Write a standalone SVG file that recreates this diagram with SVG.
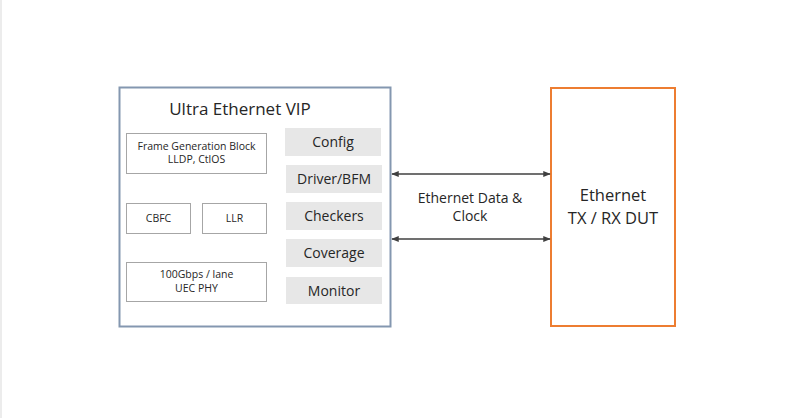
<svg xmlns="http://www.w3.org/2000/svg" width="800" height="418" viewBox="0 0 800 418">
<style>
text{font-family:"Open Sans","Noto Sans","Liberation Sans",sans-serif;fill:#262626;text-anchor:middle}
.box{fill:#fff;stroke:#a6a6a6;stroke-width:1}
.gray{fill:#e7e7e7;stroke:none}
.s{font-size:10.5px}
.m{font-size:14px}
.l{font-size:16.5px}
.conn{stroke:#404040;stroke-width:1.5;fill:none;marker-start:url(#ah);marker-end:url(#ah)}
</style>
<defs>
<marker id="ah" viewBox="0 0 10 10" refX="9" refY="5" markerWidth="5" markerHeight="5" orient="auto-start-reverse" markerUnits="strokeWidth">
<path d="M0,1 L10,5 L0,9 z" fill="#404040"/>
</marker>
</defs>
<rect x="0" y="0" width="800" height="418" fill="#fff"/>
<line x1="1" y1="0" x2="1" y2="418" stroke="#d9d9d9" stroke-width="1"/>
<g id="vip">
<rect x="119.5" y="87.5" width="271" height="239" fill="#fff" stroke="#8497b0" stroke-width="2"/>
<text x="240" y="115" style="font-size:17px">Ultra Ethernet VIP</text>
</g>
<g id="frame-gen">
<rect class="box" x="126.5" y="133.5" width="140" height="40"/>
<text class="s" x="196.5" y="150">Frame Generation Block</text>
<text class="s" x="196.5" y="163">LLDP, CtlOS</text>
</g>
<g id="cbfc">
<rect class="box" x="126.5" y="203.5" width="64" height="30"/>
<text class="s" x="158.5" y="222">CBFC</text>
</g>
<g id="llr">
<rect class="box" x="202.5" y="203.5" width="64" height="30"/>
<text class="s" x="234.5" y="222">LLR</text>
</g>
<g id="phy">
<rect class="box" x="126.5" y="262.5" width="140" height="39"/>
<text class="s" x="196.5" y="278">100Gbps / lane</text>
<text class="s" x="196.5" y="292">UEC PHY</text>
</g>
<g id="config">
<rect class="gray" x="285" y="128" width="96" height="28"/>
<text class="m" x="333" y="147">Config</text>
</g>
<g id="driver">
<rect class="gray" x="286" y="165" width="96" height="28"/>
<text class="m" x="334" y="184">Driver/BFM</text>
</g>
<g id="checkers">
<rect class="gray" x="286" y="202" width="96" height="28"/>
<text class="m" x="334" y="221">Checkers</text>
</g>
<g id="coverage">
<rect class="gray" x="286" y="239" width="96" height="28"/>
<text class="m" x="334" y="258">Coverage</text>
</g>
<g id="monitor">
<rect class="gray" x="286" y="277" width="96" height="27"/>
<text class="m" x="334" y="296">Monitor</text>
</g>
<g id="dut">
<rect x="551" y="88" width="124" height="238" fill="#fff" stroke="#ed7d31" stroke-width="2"/>
<text class="l" x="613" y="201">Ethernet</text>
<text class="l" x="613" y="224">TX / RX DUT</text>
</g>
<g id="connectors">
<line class="conn" x1="392" y1="174" x2="550" y2="174"/>
<line class="conn" x1="392" y1="239" x2="550" y2="239"/>
<text class="m" x="470" y="203">Ethernet Data &amp;</text>
<text class="m" x="470" y="221">Clock</text>
</g>
</svg>
